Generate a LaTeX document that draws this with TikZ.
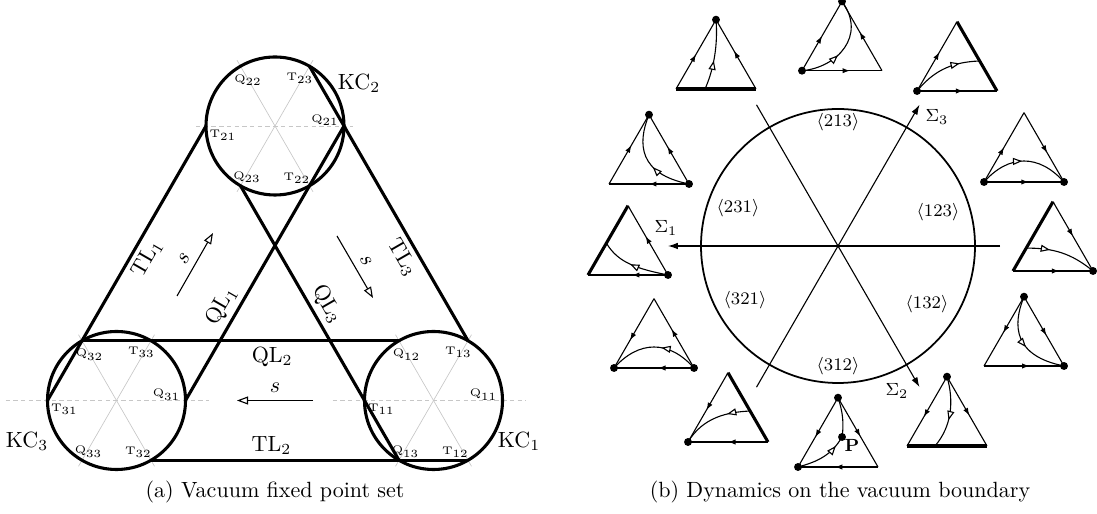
\documentclass[tikz,border=0pt]{standalone}
\usetikzlibrary{arrows.meta,calc,decorations.markings}

\tikzset{
  kline/.style={line width=1.4pt},
  guide/.style={black!22, line width=0.3pt},
  side/.style={line width=0.5pt},
  heavy/.style={line width=1.4pt},
  fwd/.style={postaction={decorate}, decoration={markings, mark=at position #1 with {\arrow{Latex[length=3.4pt,width=2.4pt]}}}},
  fwd/.default=0.56,
  orbit/.style={postaction={decorate}, decoration={markings, mark=at position #1 with {\arrow{Triangle[length=4.2pt,width=3.2pt,fill=white]}}}},
  orbit/.default=0.5,
  lbl/.style={font=\tiny, inner sep=0pt},
  sarrow/.style={line width=0.5pt, -{Triangle[length=5pt,width=3.6pt,fill=white]}},
  sigarrow/.style={line width=0.5pt, -{Latex[length=4.5pt,width=3pt]}},
  sector/.style={font=\footnotesize},
}

\begin{document}
\begin{tikzpicture}[x=0.454pt, y=0.454pt]
\useasboundingbox (0,0) rectangle (1097,514);

% Circulos KC
\foreach \k/\cx/\cy/\dl/\dr in {1/433.5/113.5/101/92, 2/275/388/79/78, 3/116.5/113.5/111/92}{
  \coordinate (C\k) at (\cx,\cy);
  \draw[guide, dash pattern=on 2pt off 1.5pt] ($(C\k)+(-\dl,0)$) -- ($(C\k)+(\dr,0)$);
  \draw[guide] ($(C\k)+(60:76)$) -- ($(C\k)+(240:76)$);
  \draw[guide] ($(C\k)+(120:76)$) -- ($(C\k)+(300:76)$);
  \draw[kline] (C\k) circle (69);
  \coordinate (Q\k1) at ($(C\k)+(0:69)$);
  \coordinate (T\k3) at ($(C\k)+(60:69)$);
  \coordinate (Q\k2) at ($(C\k)+(120:69)$);
  \coordinate (T\k1) at ($(C\k)+(180:69)$);
  \coordinate (Q\k3) at ($(C\k)+(240:69)$);
  \coordinate (T\k2) at ($(C\k)+(300:69)$);
  \node[lbl] (lQ\k1) at ($(C\k)+(50,6)$) {Q$_{\k1}$};
  \node[lbl] (lT\k3) at ($(C\k)+(25,48)$) {T$_{\k3}$};
  \node[lbl] (lQ\k2) at ($(C\k)+(-27,46)$) {Q$_{\k2}$};
  \node[lbl] (lT\k1) at ($(C\k)+(-52,-9)$) {T$_{\k1}$};
  \node[lbl] (lQ\k3) at ($(C\k)+(-28,-51)$) {Q$_{\k3}$};
  \node[lbl] (lT\k2) at ($(C\k)+(22,-52)$) {T$_{\k2}$};
}

% Rectas TL y QL
\draw[kline] (T31) -- (T21) node[pos=0.545, sloped, below, inner sep=2pt] (tl1) {TL$_1$};
\draw[kline] (T23) -- (T13) node[pos=0.67, sloped, below, inner sep=2pt] (tl3) {TL$_3$};
\draw[kline] (T32) -- (T12) node[pos=0.38, above, inner sep=2pt] (tl2) {TL$_2$};
\draw[kline] (Q31) -- (Q21) node[pos=0.315, sloped, above, inner sep=2pt] (ql1) {QL$_1$};
\draw[kline] (Q23) -- (Q13) node[pos=0.46, sloped, above, inner sep=2pt] (ql3) {QL$_3$};
\draw[kline] (Q32) -- (Q12) node[pos=0.60, below, inner sep=2pt] (ql2) {QL$_2$};

% Flechas s
\coordinate (sa1) at (177,218); \coordinate (sb1) at (213,281);
\coordinate (sa2) at (337,278); \coordinate (sb2) at (373,216);
\coordinate (sa3) at (313,113.5); \coordinate (sb3) at (237,113.5);
\draw[sarrow] (sa1) -- (sb1) node[midway, sloped, above] (s1) {$s$};
\draw[sarrow] (sa2) -- (sb2) node[midway, sloped, above] (s2) {$s$};
\draw[sarrow] (sa3) -- (sb3) node[midway, above] (s3) {$s$};

\node (kc1) at (519,73) {KC$_1$};
\node (kc2) at (359,431) {KC$_2$};
\node (kc3) at (27,73) {KC$_3$};

% Circulo de las permutaciones
\coordinate (O) at (838,268);
\draw[line width=0.8pt] (O) circle (137);
\coordinate (g1a) at (1000,268); \coordinate (g1b) at (668,268);
\coordinate (g2a) at ($(O)+(120:163)$); \coordinate (g2b) at ($(O)+(300:163)$);
\coordinate (g3a) at ($(O)+(240:163)$); \coordinate (g3b) at ($(O)+(60:163)$);
\draw[sigarrow] (g1a) -- (g1b);
\draw[sigarrow] (g2a) -- (g2b);
\draw[sigarrow] (g3a) -- (g3b);
\node[sector] (sig1) at (666,286) {$\Sigma_1$};
\node[sector] (sig2) at (897,123) {$\Sigma_2$};
\node[sector] (sig3) at (937,397) {$\Sigma_3$};

\node[sector] (p213) at (838,392) {$\langle 213\rangle$};
\node[sector] (p123) at (938,302) {$\langle 123\rangle$};
\node[sector] (p231) at (738,306) {$\langle 231\rangle$};
\node[sector] (p321) at (745,214) {$\langle 321\rangle$};
\node[sector] (p132) at (927,210) {$\langle 132\rangle$};
\node[sector] (p312) at (838,148) {$\langle 312\rangle$};

% Triangulos pequenos
\foreach \n/\x/\y in {A/676/425, B/802/443.3, C/917/423, D/984/332, E/1013/243, F/984/148,
                      G/907/68, H/798/47, I/688/72, J/614/146, K/588/239, L/609/330}{
  \coordinate (\n-l) at (\x,\y);
  \coordinate (\n-r) at (\x+80,\y);
  \coordinate (\n-t) at (\x+40,\y+69.3);
}

% A
\draw[side, fwd=0.5] (A-l) -- (A-t);
\draw[side, fwd=0.55] (A-r) -- (A-t);
\draw[heavy] (A-l) -- (A-r);
\draw[side, orbit=0.42, shift={(A-l)}] (29,0) .. controls (38,20) and (42,45) .. (A-t);
% B
\draw[side, fwd=0.5] (B-l) -- (B-t);
\draw[side, fwd] (B-r) -- (B-t);
\draw[side, fwd=0.6] (B-l) -- (B-r);
\draw[side, orbit=0.4, shift={(B-l)}] (B-l) .. controls (35,3) and (65,35) .. (B-t);
% C
\draw[side, fwd] (C-l) -- (C-t);
\draw[side, fwd=0.58] (C-l) -- (C-r);
\draw[heavy] (C-r) -- (C-t);
\draw[side, orbit=0.72, shift={(C-l)}] (C-l) .. controls (15,18) and (32,29) .. ($(C-r)!0.433!(C-t)$);
% D
\draw[side, fwd=0.5] (D-l) -- (D-t);
\draw[side, fwd=0.58] (D-t) -- (D-r);
\draw[side, fwd=0.56] (D-l) -- (D-r);
\draw[side, orbit=0.48, shift={(D-l)}] (D-l) .. controls (25,28) and (55,28) .. (D-r);
% E
\draw[heavy] (E-l) -- (E-t);
\draw[side, fwd=0.5] (E-t) -- (E-r);
\draw[side, fwd=0.58] (E-l) -- (E-r);
\draw[side, orbit=0.33, shift={(E-l)}] ($(E-l)!0.33!(E-t)$) .. controls (40,23) and (58,18) .. (E-r);
% F
\draw[side, fwd=0.52] (F-t) -- (F-l);
\draw[side, fwd] (F-t) -- (F-r);
\draw[side, fwd=0.57] (F-l) -- (F-r);
\draw[side, orbit=0.55, shift={(F-l)}] (F-t) .. controls (28,40) and (30,10) .. (F-r);
% G
\draw[side, fwd=0.58] (G-t) -- (G-l);
\draw[side, fwd] (G-t) -- (G-r);
\draw[heavy] (G-l) -- (G-r);
\draw[side, orbit=0.6, shift={(G-l)}] (G-t) .. controls (47,45) and (45,20) .. (28,0);
% H
\draw[side, fwd=0.57] (H-t) -- (H-l);
\draw[side, fwd] (H-t) -- (H-r);
\draw[side, fwd=0.54] (H-r) -- (H-l);
\coordinate (P) at ($(H-l)+(44,30)$);
\draw[side, shift={(H-l)}] (H-t) .. controls (45,55) and (46,42) .. (P);
\draw[side, orbit=0.8, shift={(H-l)}] (H-l) .. controls (20,5.4) and (33.6,12) .. (P);
\node[font=\footnotesize\bfseries, anchor=north west, inner sep=1pt] (lP) at (P) {P};
% I
\draw[side, fwd=0.54] (I-t) -- (I-l);
\draw[side, fwd=0.5] (I-r) -- (I-l);
\draw[heavy] (I-r) -- (I-t);
\draw[side, orbit=0.32, shift={(I-l)}] ($(I-r)!0.447!(I-t)$) .. controls (40,30) and (15,25) .. (I-l);
% J
\draw[side, fwd=0.6] (J-t) -- (J-l);
\draw[side, fwd] (J-r) -- (J-t);
\draw[side, fwd=0.45] (J-r) -- (J-l);
\draw[side, orbit=0.42, shift={(J-l)}] (J-r) .. controls (55,28) and (25,28) .. (J-l);
% K
\draw[heavy] (K-l) -- (K-t);
\draw[side, fwd] (K-r) -- (K-t);
\draw[side, fwd=0.45] (K-r) -- (K-l);
\draw[side, orbit=0.55, shift={(K-l)}] (K-r) .. controls (50,6) and (30,12) .. ($(K-l)!0.46!(K-t)$);
% L
\draw[side, fwd=0.56] (L-l) -- (L-t);
\draw[side, fwd=0.54] (L-r) -- (L-t);
\draw[side, fwd=0.5] (L-r) -- (L-l);
\draw[side, orbit=0.42, shift={(L-l)}] (L-r) .. controls (30,10) and (28,40) .. (L-t);

% Puntos fijos
\foreach \p in {A-t, B-t, B-l, C-l, D-l, D-r, E-r, F-t, F-r, G-t, H-t, H-l, P, I-l, J-l, J-r, K-r, L-t, L-r}
  \fill (\p) circle (1.8pt);

% Subtitulos
\node[anchor=base] (capa) at (275,16.5) {(a) Vacuum fixed point set};
\node[anchor=base] (capb) at (840,16.5) {(b) Dynamics on the vacuum boundary};
\end{tikzpicture}
\end{document}
